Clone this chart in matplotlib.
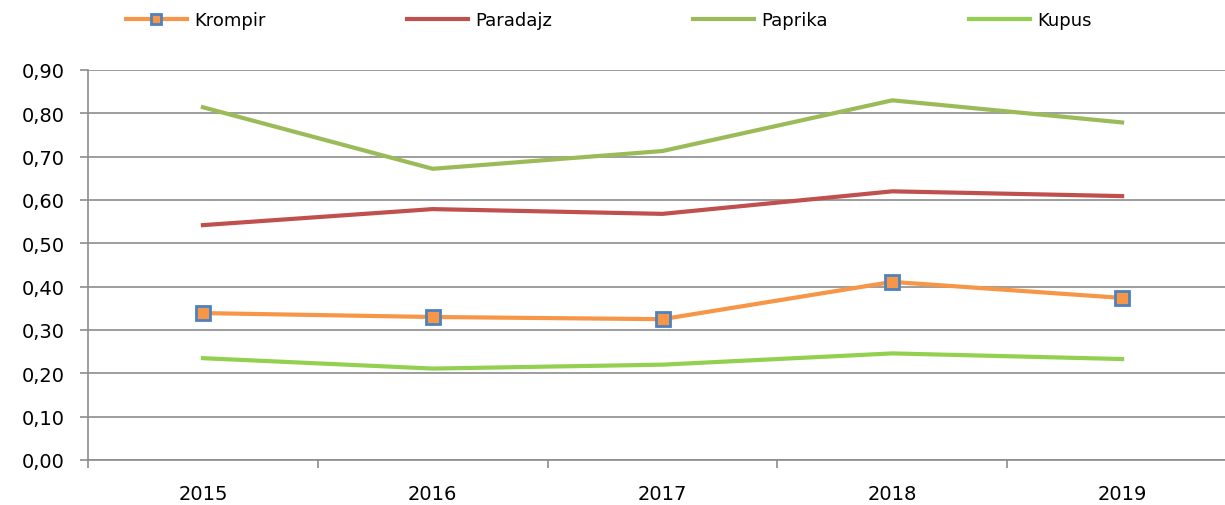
import matplotlib

matplotlib.use("Agg")
import matplotlib.pyplot as plt  # noqa: E402
from matplotlib.ticker import FixedLocator, FuncFormatter  # noqa: E402

years = ["2015", "2016", "2017", "2018", "2019"]
krompir = [0.339, 0.330, 0.325, 0.411, 0.374]
paradajz = [0.542, 0.579, 0.568, 0.620, 0.609]
paprika = [0.814, 0.672, 0.713, 0.830, 0.779]
kupus = [0.235, 0.211, 0.220, 0.246, 0.233]

plt.rcParams["font.family"] = ["DejaVu Sans"]
grid_c = "#8c8c8c"

fig = plt.figure(figsize=(12.25, 5.06), dpi=100)
ax = fig.add_axes([88 / 1225, 1 - 461 / 506, (1237 - 88) / 1225, 390 / 506])

x = range(len(years))
ax.plot(x, krompir, color="#F79646", lw=3, marker="s", ms=10,
        mfc="#F79646", mec="#4F81BD", mew=2, label="Krompir", zorder=5)
ax.plot(x, paradajz, color="#C0504D", lw=3, label="Paradajz", zorder=4)
ax.plot(x, paprika, color="#9BBB59", lw=3, label="Paprika", zorder=4)
ax.plot(x, kupus, color="#92D050", lw=3, label="Kupus", zorder=4)

ax.set_xlim(-0.5, len(years) - 0.5)
ax.set_ylim(0, 0.9)
ax.set_yticks([i / 10 for i in range(10)])
ax.yaxis.set_major_formatter(FuncFormatter(lambda v, _: f"{v:.2f}".replace(".", ",")))
ax.set_xticks(list(x))
ax.set_xticklabels(years)
ax.xaxis.set_minor_locator(FixedLocator([i - 0.5 for i in range(len(years) + 1)]))
ax.tick_params(axis="x", which="major", length=0, labelsize=14, pad=17)
ax.tick_params(axis="x", which="minor", length=5.5, width=1.2, color=grid_c)
ax.tick_params(axis="y", length=5.5, width=1.2, color=grid_c, labelsize=14, pad=11)

ax.grid(axis="y", color=grid_c, lw=1.2)
ax.set_axisbelow(True)
for s in ["top", "right"]:
    ax.spines[s].set_visible(False)
for s in ["left", "bottom"]:
    ax.spines[s].set_color(grid_c)
    ax.spines[s].set_linewidth(1.2)

fig.legend(loc="center", bbox_to_anchor=(0.497, 1 - 21 / 506), ncol=4,
           frameon=False, fontsize=13, handlelength=3.4, columnspacing=7.8,
           handletextpad=0.4, markerscale=0.7)

fig.savefig("out.png", dpi=100)
plt.close(fig)
